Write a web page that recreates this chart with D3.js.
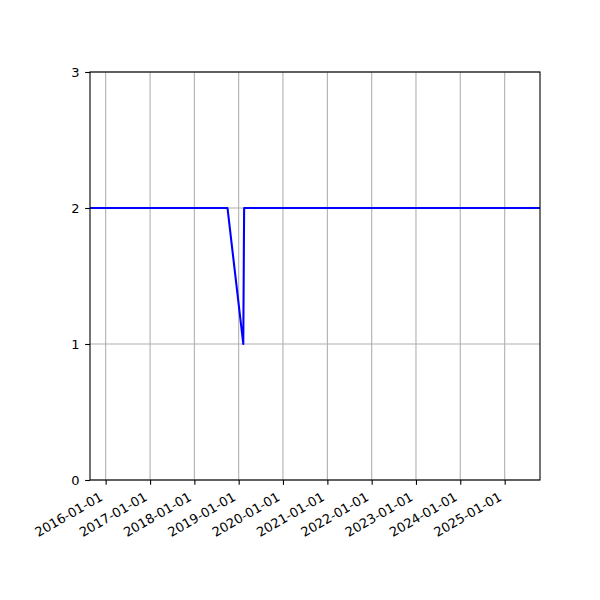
<!DOCTYPE html>
<html>
<head>
<meta charset="utf-8">
<script src="https://cdn.jsdelivr.net/npm/d3@7"></script>
<style>
  body { margin: 0; background: #fff; }
  svg { display: block; }
  .tick text { font-family: "DejaVu Sans", sans-serif; font-size: 13px; fill: #000; }
</style>
</head>
<body>
<div id="chart"></div>
<script>
// data
const dates = ['2015-08-25', '2018-10-01', '2019-02-08', '2019-02-15', '2025-10-19'];
const values = [2, 2, 1, 2, 2];
const yTicks = [0, 1, 2, 3];
const xTickYears = [2016, 2017, 2018, 2019, 2020, 2021, 2022, 2023, 2024, 2025];

const parse = d3.timeParse('%Y-%m-%d');
const fmt = d3.timeFormat('%Y-%m-%d');
const points = dates.map((d, i) => ({ date: parse(d), value: values[i] }));

const width = 600;
const height = 600;
const margin = { top: 72, right: 60, bottom: 120, left: 90 };

const svg = d3.select('#chart')
  .append('svg')
  .attr('width', width)
  .attr('height', height);

const x = d3.scaleTime()
  .domain(d3.extent(points, d => d.date))
  .range([margin.left, width - margin.right]);

const y = d3.scaleLinear()
  .domain([0, 3])
  .range([height - margin.bottom, margin.top]);

const xTicks = xTickYears.map(yr => new Date(yr, 0, 1));

// grid
svg.append('g')
  .selectAll('line.gx')
  .data(xTicks)
  .enter()
  .append('line')
  .attr('x1', d => x(d)).attr('x2', d => x(d))
  .attr('y1', margin.top).attr('y2', height - margin.bottom)
  .attr('stroke', '#b0b0b0')
  .attr('stroke-width', 1.1);

svg.append('g')
  .selectAll('line.gy')
  .data(yTicks)
  .enter()
  .append('line')
  .attr('x1', margin.left).attr('x2', width - margin.right)
  .attr('y1', d => y(d)).attr('y2', d => y(d))
  .attr('stroke', '#b0b0b0')
  .attr('stroke-width', 1.1);

// line
const line = d3.line()
  .x(d => x(d.date))
  .y(d => y(d.value));

svg.append('path')
  .datum(points)
  .attr('fill', 'none')
  .attr('stroke', '#0000ff')
  .attr('stroke-width', 2.08)
  .attr('stroke-linejoin', 'round')
  .attr('d', line);

// axes
const xAxis = svg.append('g')
  .attr('transform', `translate(0,${height - margin.bottom})`)
  .call(d3.axisBottom(x).tickValues(xTicks).tickFormat(fmt).tickSize(4.86).tickPadding(4.86));

xAxis.selectAll('.tick text')
  .attr('text-anchor', 'end')
  .attr('dy', null)
  .attr('y', 0)
  .attr('transform', 'translate(-2.5,19.5) rotate(-30)');

const yAxis = svg.append('g')
  .attr('transform', `translate(${margin.left},0)`)
  .call(d3.axisLeft(y).tickValues(yTicks).tickFormat(d3.format('d')).tickSize(4.86).tickPadding(5.5));

[xAxis, yAxis].forEach(a => {
  a.select('.domain').remove();
  a.selectAll('.tick line').attr('stroke', '#000').attr('stroke-width', 1.1);
});

// frame
svg.append('rect')
  .attr('x', margin.left)
  .attr('y', margin.top)
  .attr('width', width - margin.left - margin.right)
  .attr('height', height - margin.top - margin.bottom)
  .attr('fill', 'none')
  .attr('stroke', '#000')
  .attr('stroke-width', 1.1);
</script>
</body>
</html>
